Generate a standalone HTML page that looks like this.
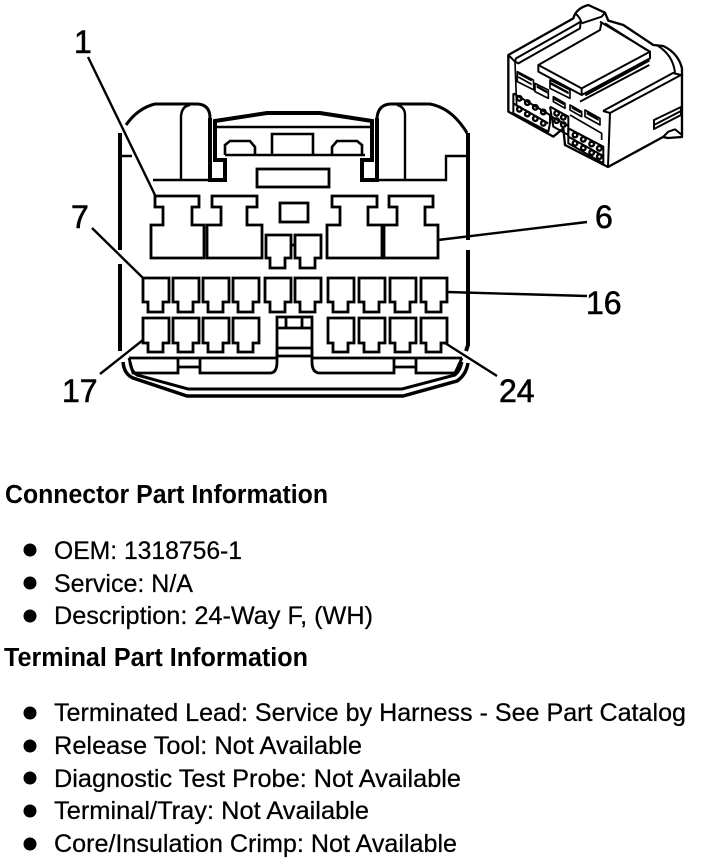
<!DOCTYPE html>
<html><head><meta charset="utf-8"><style>
html,body{margin:0;padding:0;background:#fff;width:704px;height:864px;overflow:hidden}
svg{display:block}
text{font-family:"Liberation Sans",sans-serif;fill:#000}
.h{font-weight:bold;font-size:25.5px}
.b{font-size:24.7px;stroke:#000;stroke-width:.25px}
.n{font-size:32px;stroke:#000;stroke-width:.6px}
</style></head><body>
<svg width="704" height="864" viewBox="0 0 704 864" xmlns="http://www.w3.org/2000/svg">
<g fill="none" stroke="#000" stroke-width="2.8" stroke-linejoin="miter">
<!-- shell thick -->
<path stroke-width="3" d="M126 125 Q138 108 155 104 L198 104 Q210 105 210 118"/>
<path stroke-width="4" d="M210 118 L210 180 L225 180 L225 160 L215 160 L215 121 L267 113 L320 113 L372 121 L372 160 L362 160 L362 180 L377 180 L377 118"/>
<path stroke-width="3" d="M377 118 Q378 105 390 104 L430 104 Q452 108 467 133"/>
<path stroke-width="4" d="M468 133 L468 240 M468 250 L468 345 L466 351"/>
<path stroke-width="4" d="M120 133 L120 250 M120 264 L120 351"/>
<path stroke-width="2.4" d="M120 156 L132 156 M153 180 L210 180 M181 180 L181 116 Q182 106 190 105 M377 180 L446 180 L446 156 L467 156 M405 180 L405 115 Q405 107 397 105"/>
<path stroke-width="2.4" d="M215 127 L370 127 M225 155 L365 155"/>
<path stroke-width="2.6" d="M272 155 L272 134 L313 134 L313 155 M225 155 L225 145 L230 141 L250 141 L255 147 L255 155 M332 155 L332 147 L337 141 L357 141 L362 145 L362 155"/>
<rect x="257" y="169" width="72" height="18"/>
<rect x="280" y="203" width="28" height="19"/>
<!-- large terminals -->
<polygon points="155,196 199,196 199,207 192,207 192,225 204,225 204,258 151,258 151,225 163,225 163,207 155,207"/>
<polygon points="212,196 257,196 257,207 247,207 247,225 262,225 262,258 207,258 207,225 221,225 221,207 212,207"/>
<polygon points="332,196 377,196 377,207 368,207 368,225 382,225 382,258 327,258 327,225 340,225 340,207 332,207"/>
<polygon points="389,196 433,196 433,207 425,207 425,225 438,225 438,258 384,258 384,225 397,225 397,207 389,207"/>
<!-- center small -->
<polygon points="266,235 291,235 291,258 285,258 285,268 270,268 270,258 266,258"/>
<polygon points="295,235 321,235 321,258 315,258 315,268 300,268 300,258 295,258"/>
<path d="M291 245 L295 245"/>
<!-- row 2 -->
<defs><path id="t" d="M0 0 L26 0 L26 24 L20 24 L20 34 L5 34 L5 24 L0 24 Z"/>
<path id="u" d="M0 0 L26 0 L26 25 L20 25 L20 34 L5 34 L5 25 L0 25 Z"/></defs>
<use href="#t" x="143" y="278"/><use href="#t" x="173" y="278"/><use href="#t" x="203" y="278"/><use href="#t" x="233" y="278"/><use href="#t" x="265" y="278"/><use href="#t" x="295" y="278"/><use href="#t" x="328" y="278"/><use href="#t" x="359" y="278"/><use href="#t" x="390" y="278"/><use href="#t" x="421" y="278"/>
<!-- row 3 -->
<use href="#u" x="143" y="318"/><use href="#u" x="173" y="318"/><use href="#u" x="203" y="318"/><use href="#u" x="233" y="318"/><use href="#u" x="328" y="318"/><use href="#u" x="359" y="318"/><use href="#u" x="390" y="318"/><use href="#u" x="421" y="318"/>
<!-- center block -->
<path d="M277 357 L277 317 L312 317 L312 357 M277 328 L312 328 M277 348 L312 348 M277 356 L312 356 M286 317 L286 328 M302 317 L302 328"/>
<!-- bottom tray -->
<path d="M129 358 L277 358 M312 358 L462 358"/>
<path d="M129 358 L133 373 L178 373 L178 358 M178 367 L200 367 M200 358 L200 373 L270 373 Q277 373 277 362 L277 350"/>
<path d="M312 350 L312 362 Q312 373 320 373 L394 373 L394 358 M394 367 L416 367 M416 358 L416 373 L455 373 L462 358"/>
<path stroke-width="3.5" d="M123 362 Q124 374 133 378 L187 396 L403 396 L457 381 Q466 375 468 363"/>
<path stroke-width="3" d="M130 362 Q131 371 137 375 L188 389 L402 389 L455 375 Q460 371 462 362"/>
<!-- leaders -->
<path stroke-width="2.4" d="M88 57 L155 195 M92 228 L143 278 M438 240 L587 222 M447 292 L587 296 M143 340 L100 374 M445 343 L497 376"/>
</g>
<!-- inset connector -->
<g transform="translate(490 0) scale(.3333)" fill="none" stroke="#000" stroke-width="6" stroke-linejoin="round">
<path stroke-width="7" d="M55 165 L250 55 Q258 25 295 15 L345 38 L355 62 L400 75 L490 135 L520 138 Q565 160 576 205 L576 411 L534 414 L519 411 L354 501 L225 435 L220 385 L190 410 L55 335 Z"/>
<path d="M55 165 L75 185 L78 175 L255 75 L272 65 L270 85 L85 190 L75 185 M255 40 Q270 50 275 70 M275 70 L335 50 L345 38 M330 65 L480 155 L275 265 L145 195 L330 90 L335 65"/>
<path d="M145 195 L145 215 L275 285 L480 175 L480 155 M275 285 L275 265"/>
<path stroke-width="9" d="M285 285 L478 180"/>
<path d="M270 305 L478 195 M345 70 L470 150 M500 135 Q550 165 555 219 M339 333 L549 219 L573 225 M360 339 L573 225 M339 333 L360 339 L354 501"/>
<path d="M492 360 L573 321 L573 345 L492 387 Z M492 375 L573 333 M519 411 L535 395 L555 388 L576 405"/>
<path stroke-width="5" d="M75 185 L80 320 M82 215 L130 240 L132 270 L82 245 Z M135 250 L175 270 L175 295 L135 275 Z M180 240 L240 270 L240 295 L180 265 Z M190 290 L225 310 L225 325 L190 305 Z M240 315 L275 335 L275 350 L240 330 Z M285 330 L330 355 L330 375 L285 350 Z M240 345 L335 400 L335 420"/>
<g fill="#000" stroke="none">
<path d="M85 215 L125 237 L125 245 L85 223 Z M85 228 L125 250 L125 256 L85 234 Z M140 255 L172 273 L172 281 L140 263 Z M190 290 L222 308 L222 316 L190 298 Z M245 318 L272 333 L272 341 L245 326 Z M290 335 L326 355 L326 363 L290 343 Z M180 245 L236 275 L236 283 L180 253 Z"/>
</g>
<g stroke-width="6">
<path d="M70 280 L180 345 L180 370 M70 280 L70 340 L175 395 L180 370 M70 310 L175 370"/>
<path d="M180 320 L235 350 L235 405 L190 380 L180 320 M185 350 L235 378"/>
<path d="M235 385 L340 440 L340 490 L235 430 Z M235 410 L340 468"/>
</g>
<g fill="none" stroke-width="7">
<circle cx="88" cy="295" r="7"/><circle cx="112" cy="308" r="7"/><circle cx="136" cy="322" r="7"/><circle cx="160" cy="336" r="7"/>
<circle cx="88" cy="328" r="7"/><circle cx="112" cy="342" r="7"/><circle cx="136" cy="356" r="7"/><circle cx="160" cy="370" r="7"/>
<circle cx="200" cy="340" r="7"/><circle cx="220" cy="352" r="7"/><circle cx="200" cy="362" r="7"/><circle cx="220" cy="374" r="7"/>
<circle cx="255" cy="405" r="7"/><circle cx="280" cy="418" r="7"/><circle cx="305" cy="432" r="7"/><circle cx="328" cy="445" r="7"/>
<circle cx="255" cy="430" r="7"/><circle cx="280" cy="444" r="7"/><circle cx="305" cy="458" r="7"/><circle cx="328" cy="470" r="7"/>
</g>
</g>
<!-- callouts -->
<text class="n" x="74" y="53">1</text>
<text class="n" x="71" y="228">7</text>
<text class="n" x="595" y="228">6</text>
<text class="n" x="586" y="314">16</text>
<text class="n" x="62" y="402">17</text>
<text class="n" x="499" y="402">24</text>
<!-- text -->
<text class="h" x="5" y="503" textLength="323" lengthAdjust="spacingAndGlyphs">Connector Part Information</text>
<circle cx="30" cy="550" r="6.5"/><text class="b" x="54" y="559" textLength="188" lengthAdjust="spacingAndGlyphs">OEM: 1318756-1</text>
<circle cx="30" cy="583" r="6.5"/><text class="b" x="54" y="592" textLength="139" lengthAdjust="spacingAndGlyphs">Service: N/A</text>
<circle cx="30" cy="616" r="6.5"/><text class="b" x="54" y="624" textLength="319" lengthAdjust="spacingAndGlyphs">Description: 24-Way F, (WH)</text>
<text class="h" x="4" y="666" textLength="304" lengthAdjust="spacingAndGlyphs">Terminal Part Information</text>
<circle cx="30" cy="713" r="6.5"/><text class="b" x="54" y="721" textLength="632" lengthAdjust="spacingAndGlyphs">Terminated Lead: Service by Harness - See Part Catalog</text>
<circle cx="30" cy="746" r="6.5"/><text class="b" x="54" y="754" textLength="308" lengthAdjust="spacingAndGlyphs">Release Tool: Not Available</text>
<circle cx="30" cy="778" r="6.5"/><text class="b" x="54" y="787" textLength="407" lengthAdjust="spacingAndGlyphs">Diagnostic Test Probe: Not Available</text>
<circle cx="30" cy="811" r="6.5"/><text class="b" x="54" y="819" textLength="315" lengthAdjust="spacingAndGlyphs">Terminal/Tray: Not Available</text>
<circle cx="30" cy="844" r="6.5"/><text class="b" x="54" y="852" textLength="403" lengthAdjust="spacingAndGlyphs">Core/Insulation Crimp: Not Available</text>
</svg>
</body></html>
